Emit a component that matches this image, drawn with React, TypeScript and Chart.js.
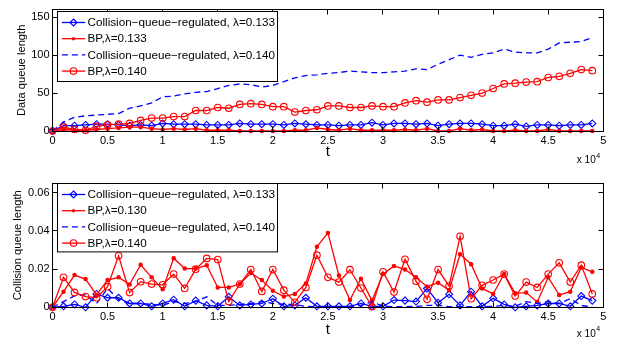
import React, { useEffect, useRef } from 'react';
import { Chart, registerables } from 'chart.js';

Chart.register(...registerables);

const FONT = '"Liberation Sans", Arial, Helvetica, sans-serif';

// ---------- data ----------
const tValues = [
  0, 1000, 2000, 3000, 4000, 5000, 6000, 7000, 8000, 9000,
  10000, 11000, 12000, 13000, 14000, 15000, 16000, 17000, 18000, 19000,
  20000, 21000, 22000, 23000, 24000, 25000, 26000, 27000, 28000, 29000,
  30000, 31000, 32000, 33000, 34000, 35000, 36000, 37000, 38000, 39000,
  40000, 41000, 42000, 43000, 44000, 45000, 46000, 47000, 48000, 49000,
];

const xTickValues = [0, 5000, 10000, 15000, 20000, 25000, 30000, 35000, 40000, 45000, 50000];
const xTickLabels = ['0', '0.5', '1', '1.5', '2', '2.5', '3', '3.5', '4', '4.5', '5'];

const dataYTicks = [0, 50, 100, 150];
const dataYLabels = ['0', '50', '100', '150'];
const collYTicks = [0, 0.02, 0.04, 0.06];
const collYLabels = ['0', '0.02', '0.04', '0.06'];

const dataLegend = [
  'Collision\u2212queue\u2212regulated, \u03bb=0.133',
  'BP,\u03bb=0.133',
  'Collision\u2212queue\u2212regulated, \u03bb=0.140',
  'BP,\u03bb=0.140',
];
const collLegend = [
  'Collision\u2212queue\u2212regulated, \u03bb=0.133',
  'BP,\u03bb=0.130',
  'Collision\u2212queue\u2212regulated, \u03bb=0.140',
  'BP,\u03bb=0.140',
];

// Data queue length
const dataCqr133 = [
  0, 7, 7, 8, 9, 9, 8, 7, 8, 7,
  10, 9, 9, 9, 8, 8, 8, 10, 9, 9,
  9, 8, 10, 9, 8, 8, 7, 8, 8, 11,
  8, 10, 10, 9, 10, 7, 9, 10, 10, 9,
  7, 7, 9, 6, 8, 8, 7, 8, 8, 10,
];
const dataBp133 = [
  0, 2, 1, 1, 2, 3, 4, 5, 5, 3,
  2, 3, 2, 3, 1, 1, 1, 0, 0, 0,
  0, 0, 1, 1, 4, 2, 1, 3, 1, 1,
  1, 1, 2, 1, 3, 0, 0, 3, 1, 2,
  0, 0, 1, 0, 0, 2, 0, 0, 0, 0,
];
const dataCqr140 = [
  0, 12, 18, 20, 21, 22, 23, 30, 33, 37,
  45, 46, 49, 51, 52, 56, 60, 62, 61, 58,
  60, 65, 70, 73, 74, 76, 77, 79, 78, 77,
  77, 78, 79, 82, 81, 88, 94, 100, 97, 101,
  103, 108, 104, 103, 103, 108, 116, 117, 118, 123,
];
const dataBp140 = [
  0, 5, 2, 1, 6, 8, 9, 10, 14, 17,
  17, 19, 19, 27, 27, 31, 30, 35, 36, 35,
  32, 32, 25, 27, 28, 33, 33, 31, 31, 33,
  32, 32, 37, 40, 38, 41, 41, 44, 47, 50,
  56, 62, 63, 64.5, 65, 70.5, 72, 76, 81, 79.5,
];

// Collision queue length
const collCqr133 = [
  0, 0.0005, 0.0015, 0, 0.007, 0.005, 0.005, 0.002, 0.002, 0.0005,
  0.002, 0.004, 0.0005, 0.0035, 0.001, 0.0005, 0.0055, 0.001, 0.0015, 0.002,
  0.0045, 0.0005, 0.001, 0.005, 0.0005, 0.0005, 0.0005, 0.0005, 0.002, 0.0005,
  0.0005, 0.0038, 0.0035, 0.003, 0.0099, 0.0024, 0.0068, 0.001, 0.0082, 0.0005,
  0.0047, 0.0015, 0, 0.0005, 0.001, 0.002, 0.002, 0.0005, 0.0059, 0.0035,
];
const collBp130 = [
  0, 0.0082, 0.0169, 0.0148, 0.0065, 0.0143, 0.0157, 0.012, 0.0223, 0.0157,
  0.0094, 0.0257, 0.0203, 0.0203, 0.022, 0.0104, 0.0104, 0.0122, 0.018, 0.0143,
  0.0087, 0.0056, 0.007, 0.0125, 0.0317, 0.039, 0.0167, 0.0038, 0.015, 0.0035,
  0.0174, 0.0217, 0.0198, 0.0157, 0.0108, 0.0129, 0.009, 0.0278, 0.0226, 0.0099,
  0.007, 0.0174, 0.0073, 0.0077, 0.0028, 0.0157, 0.0064, 0.0082, 0.0209, 0.0186,
];
const collCqr140 = [
  0, 0.003, 0.006, 0.0065, 0.002, 0.0099, 0.004, 0.002, 0.002, 0.0015,
  0.001, 0.003, 0.002, 0.003, 0.0055, 0.001, 0.001, 0.0015, 0.002, 0.003,
  0.002, 0.0015, 0.0015, 0.0005, 0.0003, 0.0003, 0.0003, 0.0005, 0.001, 0.003,
  0.0005, 0.0003, 0.0003, 0.0005, 0.001, 0.001, 0.0003, 0.0005, 0.0003, 0.0003,
  0.0005, 0.001, 0.0005, 0.003, 0.002, 0.003, 0.002, 0.0045, 0.001, 0,
];
const collBp140 = [
  0, 0.0157, 0.0078, 0.0056, 0.005, 0.0108, 0.027, 0.0077, 0.0134, 0.0122,
  0.0118, 0.0174, 0.0099, 0.02, 0.0256, 0.025, 0.003, 0.0122, 0.0198, 0.0083,
  0.0198, 0.009, 0.0026, 0.0104, 0.0273, 0.0157, 0.0132, 0.0197, 0.0101, 0.0003,
  0.0186, 0.008, 0.0252, 0.0137, 0.0042, 0.0198, 0.0111, 0.0372, 0.0045, 0.0115,
  0.0143, 0.0174, 0.0059, 0.0132, 0.0104, 0.0174, 0.0233, 0.0132, 0.0221, 0.007,
];

// ---------- styles ----------
type Marker = 'diamond' | 'dot' | 'circle' | 'none';
type SeriesStyle = { color: string; dash: number[]; marker: Marker };
const BLUE = '#0000ff';
const RED = '#ff0000';
const seriesStyles: SeriesStyle[] = [
  { color: BLUE, dash: [], marker: 'diamond' },
  { color: RED, dash: [], marker: 'dot' },
  { color: BLUE, dash: [6, 4], marker: 'none' },
  { color: RED, dash: [], marker: 'circle' },
];

function markerRadius(m: Marker) {
  if (m === 'none') return 0;
  if (m === 'dot') return 1.7;
  if (m === 'diamond') return 3.5;
  return 3.3;
}

function makeDataset(label: string, values: number[], st: SeriesStyle, order: number) {
  return {
    label,
    data: values.map((v, i) => ({ x: tValues[i], y: v })),
    borderColor: st.color,
    backgroundColor: st.color,
    borderWidth: 1.3,
    borderDash: st.dash,
    tension: 0,
    pointStyle: st.marker === 'diamond' ? 'rectRot' : 'circle',
    pointRadius: markerRadius(st.marker),
    pointHoverRadius: markerRadius(st.marker),
    pointBorderColor: st.color,
    pointBorderWidth: 1.1,
    pointBackgroundColor: st.marker === 'dot' ? st.color : 'rgba(0,0,0,0)',
    clip: false as any,
    order,
  };
}

function drawMarker(ctx: CanvasRenderingContext2D, m: Marker, x: number, y: number, color: string) {
  const r = markerRadius(m);
  if (m === 'none') return;
  ctx.save();
  ctx.setLineDash([]);
  ctx.strokeStyle = color;
  ctx.fillStyle = color;
  ctx.lineWidth = 1.1;
  ctx.beginPath();
  if (m === 'diamond') {
    ctx.moveTo(x, y - r);
    ctx.lineTo(x + r, y);
    ctx.lineTo(x, y + r);
    ctx.lineTo(x - r, y);
    ctx.closePath();
    ctx.stroke();
  } else if (m === 'circle') {
    ctx.arc(x, y, r, 0, Math.PI * 2);
    ctx.stroke();
  } else {
    ctx.arc(x, y, r, 0, Math.PI * 2);
    ctx.fill();
  }
  ctx.restore();
}

const framePlugin = {
  id: 'matlabFrame',
  afterDraw(chart: any, _args: any, opts: any) {
    const { ctx, chartArea: a, scales } = chart;
    const L = Math.floor(a.left) + 0.5;
    const R = Math.floor(a.right) + 0.5;
    const T = Math.floor(a.top) + 0.5;
    const B = Math.floor(a.bottom) + 0.5;
    ctx.save();
    ctx.strokeStyle = '#000';
    ctx.lineWidth = 1;
    ctx.setLineDash([]);
    ctx.strokeRect(L, T, R - L, B - T);
    const tk = 5;
    ctx.beginPath();
    scales.x.ticks.forEach((t: any) => {
      const px = Math.floor(scales.x.getPixelForValue(t.value)) + 0.5;
      ctx.moveTo(px, B);
      ctx.lineTo(px, B - tk);
      ctx.moveTo(px, T);
      ctx.lineTo(px, T + tk);
    });
    scales.y.ticks.forEach((t: any) => {
      const py = Math.floor(scales.y.getPixelForValue(t.value)) + 0.5;
      ctx.moveTo(L, py);
      ctx.lineTo(L + tk, py);
      ctx.moveTo(R, py);
      ctx.lineTo(R - tk, py);
    });
    ctx.stroke();

    // legend box
    const lx = Math.floor(a.left + 5) + 0.5;
    const ly = Math.floor(a.top + opts.legendTop) + 0.5;
    const lw = 220;
    const lh = opts.legendHeight;
    ctx.fillStyle = '#fff';
    ctx.fillRect(lx, ly, lw, lh);
    ctx.strokeStyle = '#000';
    ctx.strokeRect(lx, ly, lw, lh);
    const labels: string[] = opts.labels;
    labels.forEach((lab, i) => {
      const st = seriesStyles[i];
      const ry = ly + 11 + 16.2 * i;
      ctx.save();
      ctx.strokeStyle = st.color;
      ctx.lineWidth = 1.3;
      ctx.setLineDash(st.dash);
      ctx.beginPath();
      ctx.moveTo(lx + 4.4, ry);
      ctx.lineTo(lx + 27.7, ry);
      ctx.stroke();
      ctx.restore();
      drawMarker(ctx, st.marker, lx + 16, ry, st.color);
      ctx.fillStyle = '#000';
      ctx.font = `11.7px ${FONT}`;
      ctx.textAlign = 'left';
      ctx.textBaseline = 'middle';
      ctx.fillText(lab, lx + 30, ry + 0.5);
    });

    // exponent label
    ctx.fillStyle = '#000';
    ctx.textAlign = 'left';
    ctx.textBaseline = 'alphabetic';
    ctx.font = `10px ${FONT}`;
    const ex = a.right - 26.5;
    const ey = a.bottom + opts.expOffset;
    ctx.fillText('x 10', ex, ey);
    const w = ctx.measureText('x 10').width;
    ctx.font = `7px ${FONT}`;
    ctx.fillText('4', ex + w + 0.5, ey - 5.5);
    ctx.restore();
  },
};

type PanelCfg = {
  height: number;
  top: number;
  xAxisHeight: number;
  xTitlePad: number;
  yMax: number;
  yTicks: number[];
  yLabels: string[];
  yTitle: string;
  yTitlePad: number;
  series: number[][];
  legend: string[];
  legendTop: number;
  legendHeight: number;
  expOffset: number;
};

function buildConfig(p: PanelCfg): any {
  const orders = [3, 2, 1, 0];
  return {
    type: 'line',
    data: {
      datasets: p.series.map((vals, i) => makeDataset(p.legend[i], vals, seriesStyles[i], orders[i])),
    },
    plugins: [framePlugin],
    options: {
      responsive: false,
      animation: false,
      devicePixelRatio: 1,
      layout: { padding: { left: 0, top: p.top, right: 14.7, bottom: 0 } },
      plugins: {
        legend: { display: false },
        tooltip: { enabled: false },
        matlabFrame: { labels: p.legend, legendTop: p.legendTop, legendHeight: p.legendHeight, expOffset: p.expOffset },
      },
      events: [],
      scales: {
        x: {
          type: 'linear',
          min: 0,
          max: 50000,
          afterBuildTicks: (s: any) => {
            s.ticks = xTickValues.map((v) => ({ value: v }));
          },
          afterFit: (s: any) => {
            s.height = p.xAxisHeight;
          },
          grid: { display: false, drawTicks: false },
          border: { display: false },
          ticks: {
            autoSkip: false,
            maxRotation: 0,
            padding: 3,
            color: '#000',
            font: { family: FONT, size: 11 },
            callback: (v: number) => xTickLabels[xTickValues.indexOf(v)] ?? '',
          },
          title: {
            display: true,
            text: 't',
            color: '#000',
            font: { family: FONT, size: 15 },
            padding: { top: 0, bottom: p.xTitlePad },
          },
        },
        y: {
          type: 'linear',
          min: 0,
          max: p.yMax,
          afterBuildTicks: (s: any) => {
            s.ticks = p.yTicks.map((v) => ({ value: v }));
          },
          afterFit: (s: any) => {
            s.width = 52.5;
          },
          grid: { display: false, drawTicks: false },
          border: { display: false },
          ticks: {
            autoSkip: false,
            padding: 3,
            color: '#000',
            font: { family: FONT, size: 11 },
            callback: (v: number) => p.yLabels[p.yTicks.indexOf(v)] ?? '',
          },
          title: {
            display: true,
            text: p.yTitle,
            color: '#000',
            font: { family: FONT, size: 11.2 },
            padding: { top: p.yTitlePad, bottom: 0 },
          },
        },
      },
    },
  };
}

const topPanel: PanelCfg = {
  height: 170,
  top: 6,
  xAxisHeight: 39,
  xTitlePad: 9.5,
  yMax: 160,
  yTicks: dataYTicks,
  yLabels: dataYLabels,
  yTitle: 'Data queue length',
  yTitlePad: 15.2,
  series: [dataCqr133, dataBp133, dataCqr140, dataBp140],
  legend: dataLegend,
  legendTop: 2.3,
  legendHeight: 70,
  expOffset: 32,
};

const bottomPanel: PanelCfg = {
  height: 171,
  top: 13.3,
  xAxisHeight: 33.7,
  xTitlePad: 2,
  yMax: 0.065,
  yTicks: collYTicks,
  yLabels: collYLabels,
  yTitle: 'Collision queue length',
  yTitlePad: 11.2,
  series: [collCqr133, collBp130, collCqr140, collBp140],
  legend: collLegend,
  legendTop: 0.5,
  legendHeight: 68.4,
  expOffset: 29.4,
};

function Panel({ cfg }: { cfg: PanelCfg }) {
  const ref = useRef<HTMLCanvasElement>(null);
  useEffect(() => {
    const chart = new Chart(ref.current as HTMLCanvasElement, buildConfig(cfg));
    return () => chart.destroy();
  }, [cfg]);
  return (
    <canvas
      ref={ref}
      width={618}
      height={cfg.height}
      style={{ display: 'block', width: 618, height: cfg.height }}
    />
  );
}

export default function App() {
  return (
    <div style={{ position: 'absolute', left: 0, top: 0, width: 618, height: 341, background: '#fff' }}>
      <Panel cfg={topPanel} />
      <Panel cfg={bottomPanel} />
    </div>
  );
}
